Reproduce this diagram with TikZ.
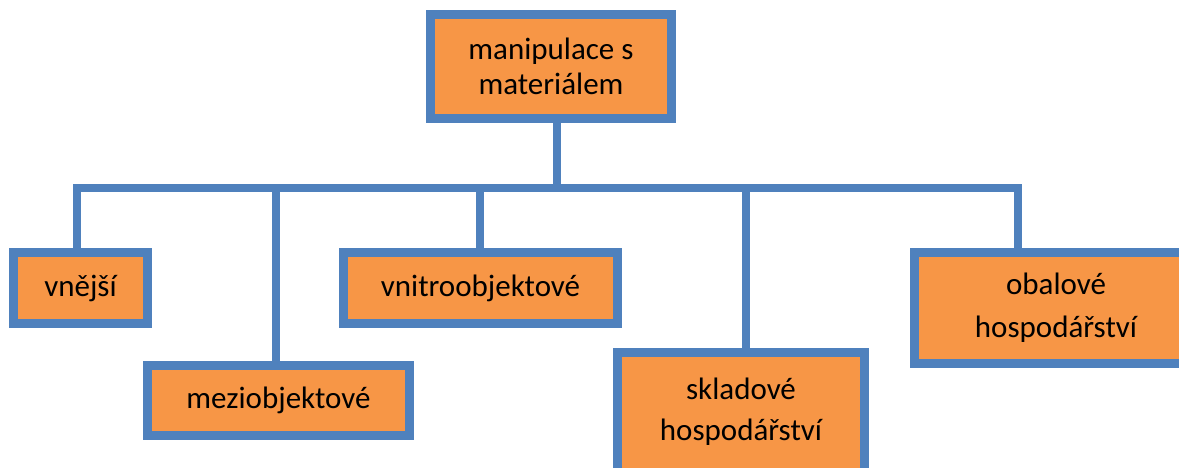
\documentclass[tikz,border=0pt]{standalone}
\usepackage{fontspec}
\setmainfont{Carlito}
\definecolor{boxblue}{RGB}{79,129,189}
\definecolor{boxorange}{RGB}{247,150,70}
\begin{document}
\begin{tikzpicture}[x=0.5pt,y=-0.5pt]
\tikzstyle{box}=[draw=boxblue,fill=boxorange,line width=4.5pt,align=center,inner sep=0pt,font=\fontsize{15.5}{17.5}\selectfont]
\tikzstyle{line}=[draw=boxblue,line width=4pt]
\useasboundingbox(0,0)rectangle(1179,467);
\clip(0,0)rectangle(1179,467);
\node[box,minimum width=120.5pt,minimum height=52pt](top)at(551,66.5){manipulace s\\materiálem};
\node[box,minimum width=67pt,minimum height=35.5pt](vnejsi)at(80.5,288){vnější};
\node[box,minimum width=131pt,minimum height=35pt](mezi)at(278.5,400.5){meziobjektové};
\node[box,minimum width=137pt,minimum height=35.5pt](vnitro)at(480.5,288){vnitroobjektové};
\node[box,minimum width=123.5pt,minimum height=60pt,font=\fontsize{15.5}{20.5}\selectfont](sklad)at(741,412){skladové\\hospodářství};
\node[box,minimum width=142pt,minimum height=55.5pt,font=\fontsize{15.5}{21.5}\selectfont,anchor=west](obal)at(909.5,308){obalové\\hospodářství};
% bus
\coordinate(b0)at(557,188);
\coordinate(b1)at(77,188);
\coordinate(b2)at(276,188);
\coordinate(b3)at(480,188);
\coordinate(b4)at(746,188);
\coordinate(b5)at(1018,188);
\path[line](b1|-vnejsi.north)--(b1)--(b5)--(b5|-obal.north);
\path[line](top.south-|b0)--(b0);
\path[line](b2)--(b2|-mezi.north);
\path[line](b3)--(b3|-vnitro.north);
\path[line](b4)--(b4|-sklad.north);
\end{tikzpicture}
\end{document}
